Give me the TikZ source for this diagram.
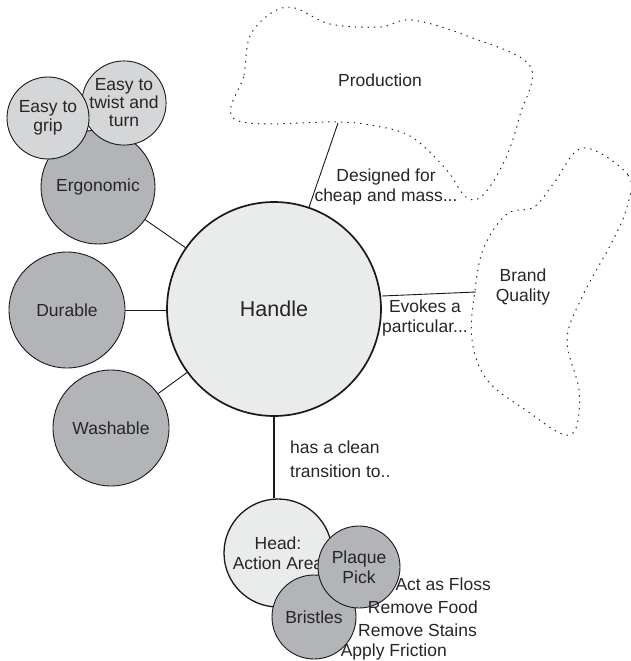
\documentclass[tikz,border=0pt]{standalone}
\usepackage{fontspec}
\setmainfont{Liberation Sans}
\begin{document}
\begin{tikzpicture}[x=1pt,y=-1pt,
  font=\fontsize{17.5}{22}\selectfont,
  every node/.style={text=black!85},
  bubble/.style={circle,draw=black!90,line width=0.9pt,inner sep=0pt,align=center},
  darkbub/.style={bubble,fill=shadeDark},
  lightbub/.style={bubble,fill=shadeLight},
  corebub/.style={bubble,fill=shadeCore,line width=1.7pt},
  cloud/.style={draw=black!85,line width=1pt,dash pattern=on 1.4pt off 5pt},
  link/.style={draw=black!90,line width=0.9pt},
  thicklink/.style={draw=black!90,line width=1.9pt},
  note/.style={align=left,inner sep=0pt}]
\definecolor{shadeDark}{HTML}{B2B4B7}
\definecolor{shadeLight}{HTML}{D5D6D8}
\definecolor{shadeCore}{HTML}{EAEBEB}
\useasboundingbox (0,0) rectangle (630,661);

% production region
\draw[cloud] plot[smooth cycle,tension=0.6] coordinates {
  (236,120) (244,75) (252,32) (287,7) (330,24) (380,27) (412,20)
  (470,37) (530,66) (520,115) (505,160) (483,195) (466,197)
  (445,168) (410,136) (370,125) (337,122)};
\node at (380,80) {Production};
\coordinate (prodB) at (338,123);

% brand quality region
\draw[cloud] plot[smooth cycle,tension=0.6] coordinates {
  (583,148) (628,175) (627,207) (612,242) (582,297) (567,340)
  (579,390) (576,428) (562,434) (530,413) (488,381) (472,340)
  (475,290) (484,247) (507,214) (534,207) (554,183)};
\node[align=center] at (523,287) {Brand\\[-2pt]Quality};
\coordinate (brandL) at (476,292);

% central handle
\node[corebub,minimum size=214pt,font=\fontsize{21.5}{24}\selectfont] (handle) at (274,309) {Handle};

% ergonomics cluster
\node[darkbub,minimum size=114pt] (ergo) at (98,187) {Ergonomic};
\node[lightbub,minimum size=82pt] (twist) at (124,103) {Easy to\\[-4pt]twist and\\[-4pt]turn};
\node[lightbub,minimum size=82pt] (grip) at (48,118) {Easy to\\[-3pt]grip};
\node[darkbub,minimum size=116pt] (dur) at (67,310) {Durable};
\node[darkbub,minimum size=116pt] (wash) at (111,428) {Washable};

\draw[link] (ergo) -- (handle);
\draw[link] (dur.east) -- (dur.east -| handle.west);
\draw[link] (wash) -- (handle);
\draw[link] (prodB) -- (handle);
\draw[link] (handle.east) ++(0,-13) coordinate (hE) (hE) -- (brandL);

\node[align=center,inner sep=0pt] at (386,187) {Designed for\\[-2pt]cheap and mass...};
\node[align=center,inner sep=0pt] at (425,318) {Evokes a\\[-2pt]particular...};

% head cluster
\node[corebub,line width=1.3pt,minimum size=108pt] (head) at (278,553) {Head:\\[-2pt]Action Area};
\draw[thicklink] (handle.south) -- (handle.south |- head.north);
\node[darkbub,minimum size=84pt] (brist) at (314,617) {Bristles};
\node[darkbub,minimum size=82pt] (pick) at (359,567) {Plaque\\[-2pt]Pick};

\node[note,anchor=west] at (290,447) {has a clean};
\node[note,anchor=west] at (290,471) {transition to..};
\node[note,anchor=east] at (491,584) {Act as Floss};
\node[note,anchor=east] at (478,607) {Remove Food};
\node[note,anchor=east] at (477,630) {Remove Stains};
\node[note,anchor=east] at (447,652) {Apply Friction};
\end{tikzpicture}
\end{document}
